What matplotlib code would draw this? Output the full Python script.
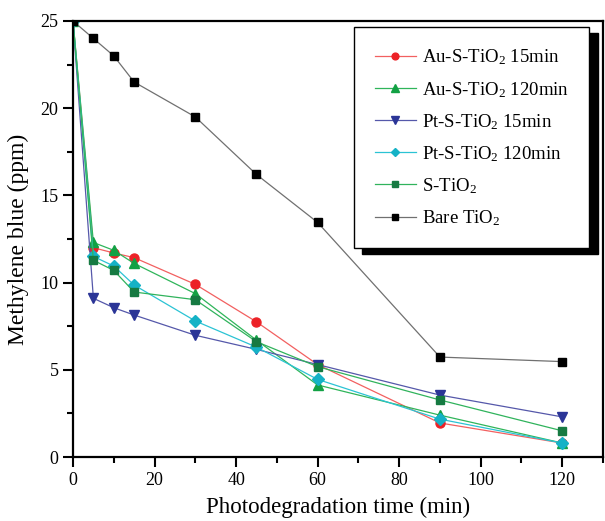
import matplotlib

matplotlib.use("Agg")
import matplotlib.pyplot as plt
from matplotlib.ticker import MultipleLocator

time_min = [0, 5, 10, 15, 30, 45, 60, 90, 120]

au_15 = [25, 12.0, 11.7, 11.43, 9.9, 7.75, 5.3, 1.95, 0.8]
au_120 = [25, 12.3, 11.85, 11.1, 9.37, 6.7, 4.13, 2.4, 0.8]
pt_15 = [25, 9.1, 8.56, 8.14, 6.98, 6.17, 5.3, 3.55, 2.3]
pt_120 = [25, 11.5, 10.95, 9.86, 7.8, 6.3, 4.45, 2.17, 0.8]
s_tio2 = [25, 11.28, 10.7, 9.46, 9.02, 6.61, 5.18, 3.27, 1.5]
bare_tio2 = [25, 24.0, 23.0, 21.5, 19.5, 16.2, 13.45, 5.73, 5.47]

labels = [
    "Au-S-TiO$_2$ 15min",
    "Au-S-TiO$_2$ 120min",
    "Pt-S-TiO$_2$ 15min",
    "Pt-S-TiO$_2$ 120min",
    "S-TiO$_2$",
    "Bare TiO$_2$",
]

plt.rcParams.update(
    {
        "font.family": "Liberation Serif",
        "mathtext.default": "regular",
        "font.size": 13,
    }
)

fig = plt.figure(figsize=(6.05, 5.21), dpi=100)
ax = fig.add_axes([73 / 605, 1 - 457 / 521, 530 / 605, 436 / 521])

series = [
    (au_15, "o", "#ec2227", "#f26060", 6.5),
    (au_120, "^", "#12a144", "#2fb55a", 7.5),
    (pt_15, "v", "#2b3597", "#5558aa", 7.5),
    (pt_120, "D", "#15b2c6", "#2bc3d4", 6),
    (s_tio2, "s", "#167a42", "#30b35c", 6),
    (bare_tio2, "s", "#000000", "#707070", 6),
]

for (vals, mk, mcol, lcol, ms), lab in zip(series, labels):
    ax.plot(
        time_min,
        vals,
        color=lcol,
        lw=0.9,
        marker=mk,
        ms=ms,
        mfc=mcol,
        mec=mcol,
        label=lab,
    )

ax.set_xlim(0, 130)
ax.set_ylim(0, 25)
ax.xaxis.set_major_locator(MultipleLocator(20))
ax.xaxis.set_minor_locator(MultipleLocator(10))
ax.yaxis.set_major_locator(MultipleLocator(5))
ax.yaxis.set_minor_locator(MultipleLocator(2.5))
ax.tick_params(which="major", direction="out", length=7, width=1.5, labelsize=13)
ax.tick_params(which="minor", direction="out", length=4, width=1.5)
for sp in ax.spines.values():
    sp.set_linewidth(1.6)

ax.set_xlabel("Photodegradation time (min)", fontsize=16.5, labelpad=6)
ax.set_ylabel("Methylene blue (ppm)", fontsize=17, labelpad=8)

leg = ax.legend(
    loc="upper right",
    bbox_to_anchor=(0.974, 0.986),
    borderaxespad=0,
    fontsize=13.5,
    frameon=True,
    fancybox=False,
    shadow={"ox": 6, "oy": -4, "color": "black", "alpha": 1},
    edgecolor="black",
    borderpad=1.1,
    labelspacing=0.66,
    handlelength=2.2,
    handletextpad=0.3,
    markerscale=0.75,
)
leg.get_frame().set_linewidth(1.0)
leg.get_frame().set_alpha(1)

fig.savefig("out.png", dpi=100, facecolor="white")
